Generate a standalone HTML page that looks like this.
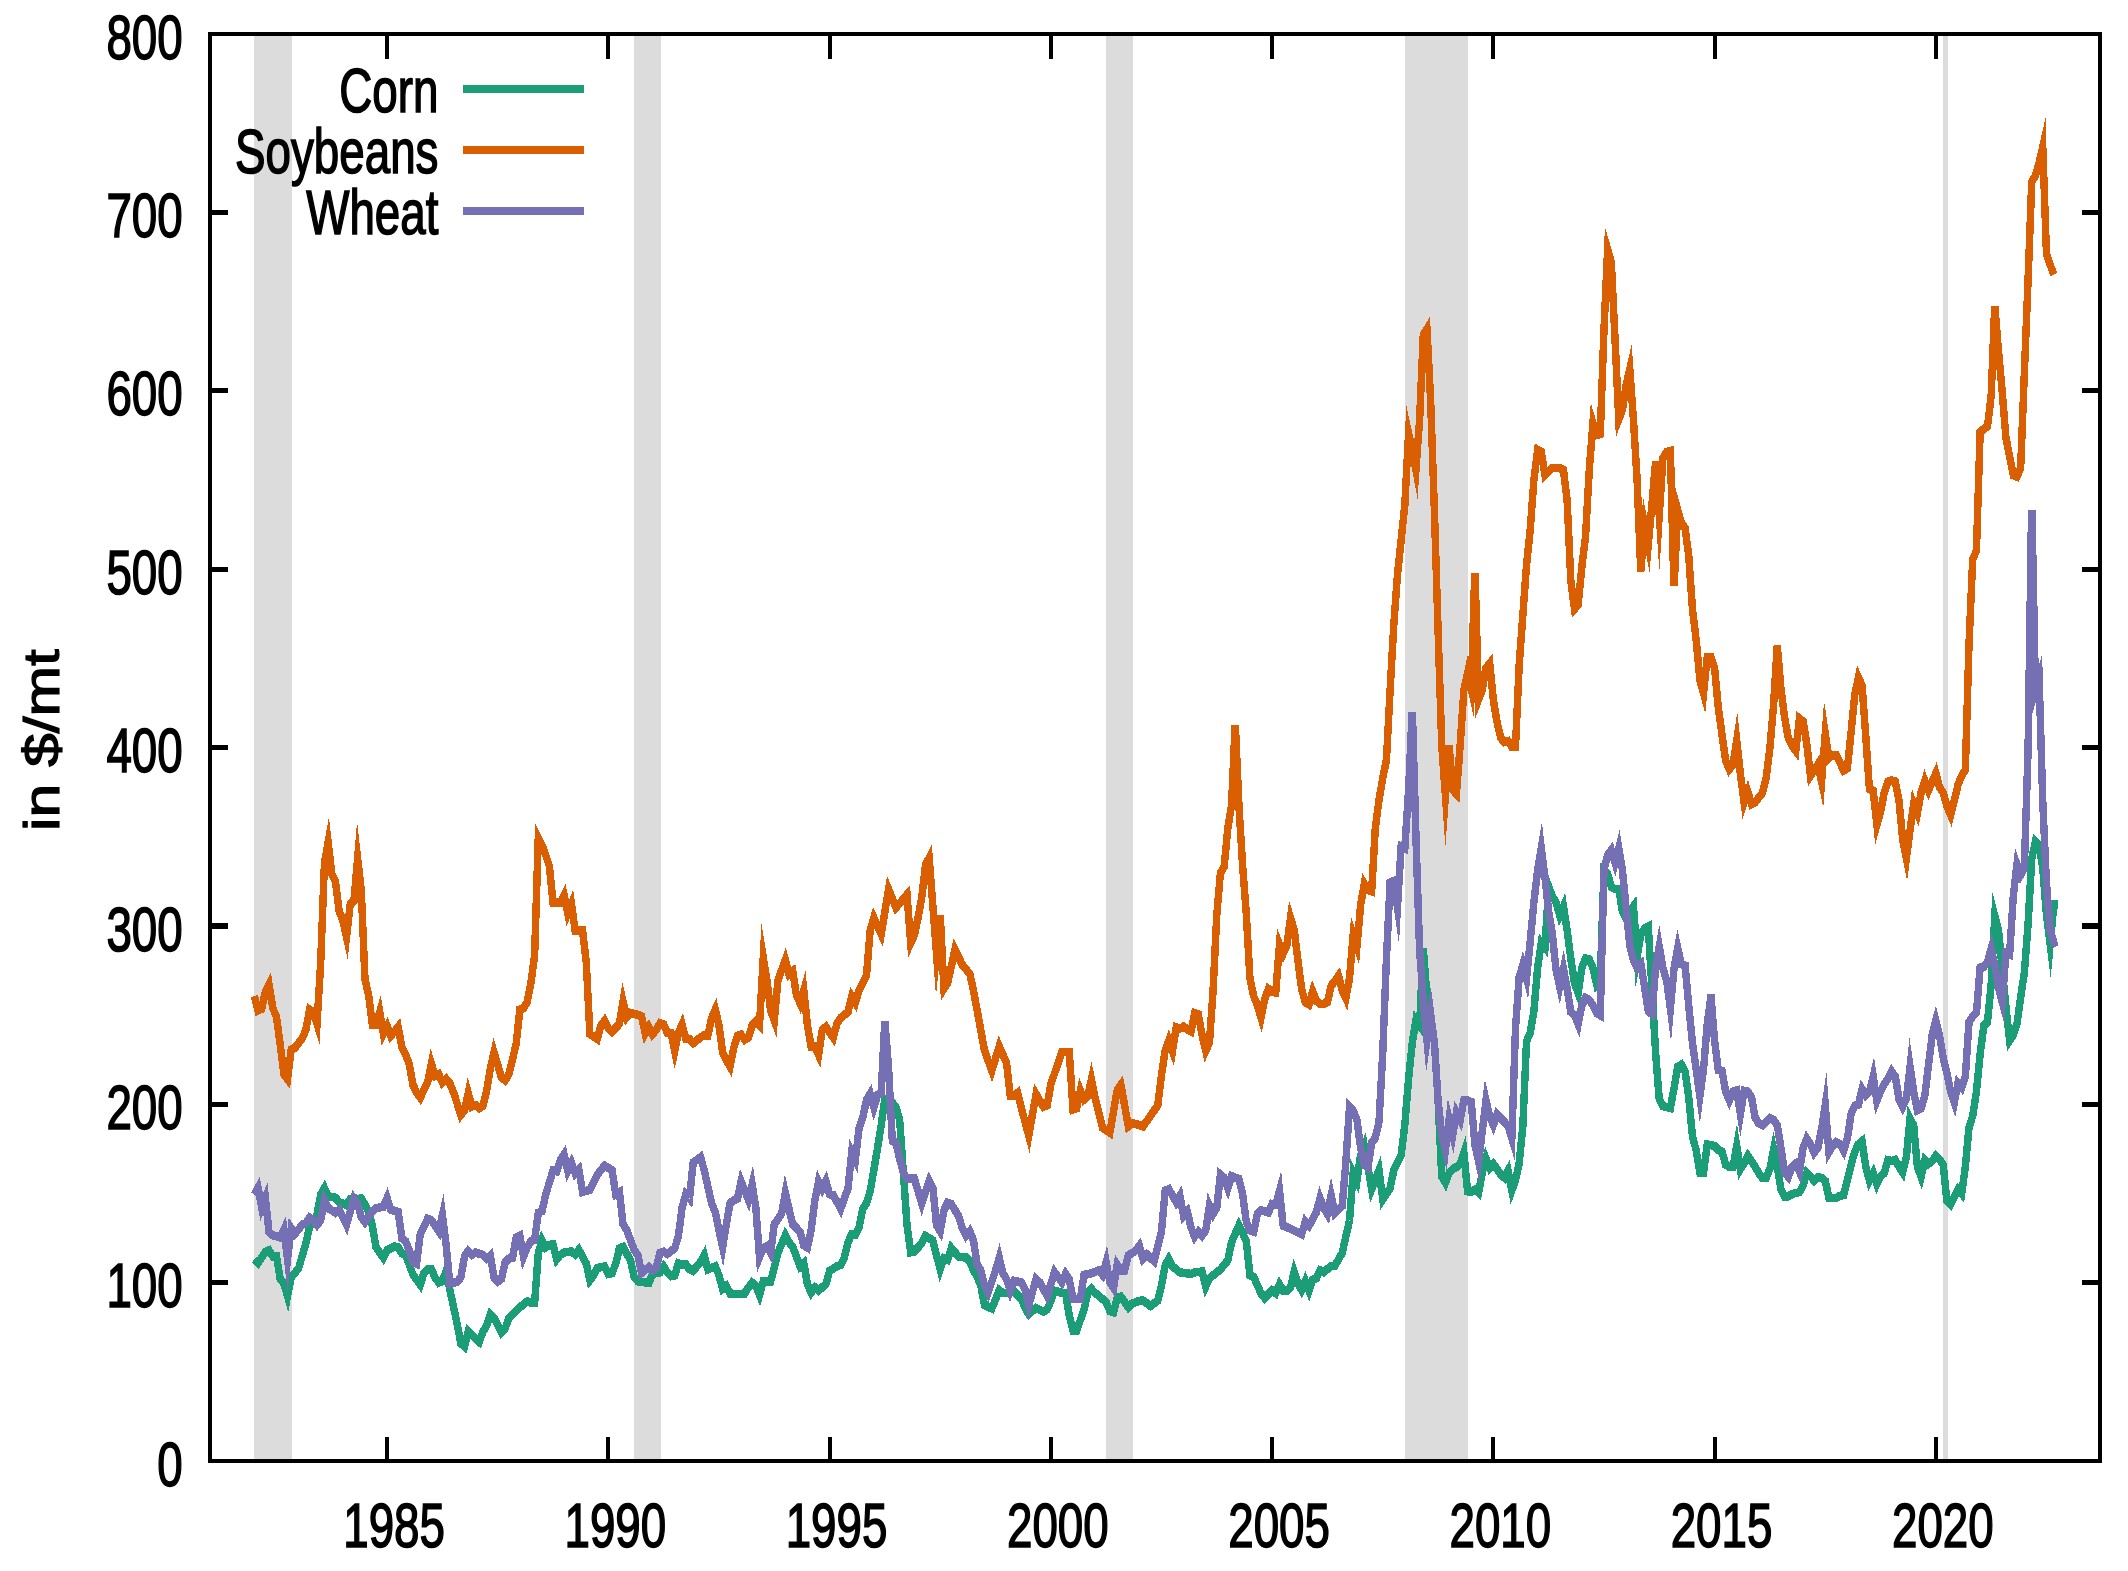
<!DOCTYPE html>
<html><head><meta charset="utf-8"><title>Commodity prices</title>
<style>
html,body{margin:0;padding:0;background:#fff;}
svg{display:block;}
text{font-family:"Liberation Sans",sans-serif;fill:#000;}
</style></head><body>
<svg width="2128" height="1571" viewBox="0 0 2128 1571" shape-rendering="crispEdges">
<rect width="2128" height="1571" fill="#fff"/>

<rect x="254.1" y="34" width="37.9" height="1427.2" fill="#dcdcdc"/>
<rect x="634" y="34" width="27.2" height="1427.2" fill="#dcdcdc"/>
<rect x="1106" y="34" width="27.0" height="1427.2" fill="#dcdcdc"/>
<rect x="1405" y="34" width="63.0" height="1427.2" fill="#dcdcdc"/>
<rect x="1942.8" y="34" width="5.0" height="1427.2" fill="#dcdcdc"/>
<g transform="scale(0.735,1)" stroke="#000" stroke-width="5.3" fill="none">
<path d="M526.67,1461.2v-24.7M526.67,34v24.7"/>
<path d="M827.69,1461.2v-24.7M827.69,34v24.7"/>
<path d="M1128.71,1461.2v-24.7M1128.71,34v24.7"/>
<path d="M1429.73,1461.2v-24.7M1429.73,34v24.7"/>
<path d="M1730.75,1461.2v-24.7M1730.75,34v24.7"/>
<path d="M2031.77,1461.2v-24.7M2031.77,34v24.7"/>
<path d="M2332.79,1461.2v-24.7M2332.79,34v24.7"/>
<path d="M2633.81,1461.2v-24.7M2633.81,34v24.7"/>
<path d="M285.71,1282.80h24.7M2856.73,1282.80h-24.7"/>
<path d="M285.71,1104.40h24.7M2856.73,1104.40h-24.7"/>
<path d="M285.71,926.00h24.7M2856.73,926.00h-24.7"/>
<path d="M285.71,747.60h24.7M2856.73,747.60h-24.7"/>
<path d="M285.71,569.20h24.7M2856.73,569.20h-24.7"/>
<path d="M285.71,390.80h24.7M2856.73,390.80h-24.7"/>
<path d="M285.71,212.40h24.7M2856.73,212.40h-24.7"/>
</g>
<g transform="scale(0.726,1)" stroke="#000" stroke-width="1.4" style="font-size:63px">
<text x="542.8" y="1547" text-anchor="middle" vector-effect="non-scaling-stroke">1985</text>
<text x="847.6" y="1547" text-anchor="middle" vector-effect="non-scaling-stroke">1990</text>
<text x="1152.3" y="1547" text-anchor="middle" vector-effect="non-scaling-stroke">1995</text>
<text x="1457.1" y="1547" text-anchor="middle" vector-effect="non-scaling-stroke">2000</text>
<text x="1761.8" y="1547" text-anchor="middle" vector-effect="non-scaling-stroke">2005</text>
<text x="2066.6" y="1547" text-anchor="middle" vector-effect="non-scaling-stroke">2010</text>
<text x="2371.3" y="1547" text-anchor="middle" vector-effect="non-scaling-stroke">2015</text>
<text x="2676.1" y="1547" text-anchor="middle" vector-effect="non-scaling-stroke">2020</text>
<text x="251.7" y="1485.9" text-anchor="end" vector-effect="non-scaling-stroke">0</text>
<text x="251.7" y="1307.5" text-anchor="end" vector-effect="non-scaling-stroke">100</text>
<text x="251.7" y="1129.1" text-anchor="end" vector-effect="non-scaling-stroke">200</text>
<text x="251.7" y="950.7" text-anchor="end" vector-effect="non-scaling-stroke">300</text>
<text x="251.7" y="772.3" text-anchor="end" vector-effect="non-scaling-stroke">400</text>
<text x="251.7" y="593.9" text-anchor="end" vector-effect="non-scaling-stroke">500</text>
<text x="251.7" y="415.5" text-anchor="end" vector-effect="non-scaling-stroke">600</text>
<text x="251.7" y="237.1" text-anchor="end" vector-effect="non-scaling-stroke">700</text>
<text x="251.7" y="58.7" text-anchor="end" vector-effect="non-scaling-stroke">800</text>
</g>
<g transform="scale(0.726,1)" stroke="#000" stroke-width="1.4" style="font-size:63px">
<text x="603.9" y="112.3" text-anchor="end" vector-effect="non-scaling-stroke">Corn</text>
<text x="603.9" y="173.3" text-anchor="end" vector-effect="non-scaling-stroke">Soybeans</text>
<text x="603.9" y="234.3" text-anchor="end" vector-effect="non-scaling-stroke">Wheat</text>
</g>
<text transform="translate(58.9,740) rotate(-90) scale(1,0.82)" text-anchor="middle" stroke="#000" stroke-width="1.3" vector-effect="non-scaling-stroke" style="font-size:60.6px">in $/mt</text>
<g transform="scale(0.875,1)" fill="none" stroke-width="8.5" stroke-linejoin="miter" stroke-miterlimit="40" stroke-linecap="butt" shape-rendering="crispEdges">
<path d="M529.1,89.0H667.7" stroke="#1b9e77" stroke-width="8"/>
<path d="M529.1,150.2H667.7" stroke="#d95f02" stroke-width="8"/>
<path d="M529.1,211.4H667.7" stroke="#7570b3" stroke-width="8"/>
<polyline points="290.7,1259.3 294.9,1263.1 303.3,1251.8 307.5,1250.3 311.8,1256.3 316.0,1256.3 320.2,1278.9 324.4,1283.4 328.6,1296.2 332.8,1277.4 341.3,1268.3 349.7,1242.8 353.9,1226.2 358.1,1223.2 362.3,1214.2 366.5,1194.7 370.8,1188.1 375.0,1196.2 383.4,1197.7 387.6,1202.2 396.0,1205.2 400.3,1199.2 404.5,1197.7 408.7,1199.2 412.9,1198.4 421.3,1211.2 425.5,1226.2 429.8,1247.3 438.2,1257.8 442.4,1250.3 450.8,1246.5 455.0,1247.3 459.3,1253.3 463.5,1254.8 471.9,1274.4 480.3,1284.7 484.5,1272.9 488.8,1269.1 493.0,1269.1 497.2,1277.4 501.4,1282.6 505.6,1281.1 509.8,1271.4 514.0,1289.4 522.5,1324.0 526.7,1343.5 530.9,1346.5 535.1,1331.5 543.5,1338.3 547.8,1341.8 552.0,1331.5 556.2,1325.5 560.4,1314.2 564.6,1318.0 573.0,1332.3 577.3,1328.5 581.5,1318.0 589.9,1310.5 602.5,1301.4 606.8,1302.9 611.0,1302.9 615.2,1253.3 619.4,1240.2 623.6,1247.3 627.8,1245.0 632.0,1244.3 636.3,1259.3 640.5,1254.8 644.7,1252.6 653.1,1251.3 657.3,1254.4 661.5,1249.8 670.0,1263.4 674.2,1280.2 678.4,1275.4 682.6,1267.9 691.0,1266.4 695.3,1273.9 699.5,1273.2 703.7,1263.4 707.9,1248.3 712.1,1246.8 720.5,1260.4 724.8,1276.9 729.0,1281.4 737.4,1282.4 741.6,1282.9 745.8,1273.9 754.3,1272.4 758.5,1266.6 762.7,1272.4 766.9,1276.2 771.1,1275.4 775.3,1263.4 779.5,1264.9 783.8,1264.1 788.0,1269.4 792.2,1270.9 800.6,1261.9 804.8,1255.3 809.0,1269.4 813.3,1267.9 817.5,1266.4 821.7,1275.4 825.9,1288.9 830.1,1285.9 834.3,1293.5 842.8,1294.2 851.2,1293.5 855.4,1287.4 859.6,1282.7 863.8,1285.9 868.0,1295.0 872.3,1281.4 880.7,1281.4 884.9,1267.9 889.1,1252.9 897.5,1235.3 901.8,1242.3 906.0,1246.8 914.4,1266.4 918.6,1262.9 922.8,1284.4 927.0,1292.7 931.3,1287.4 935.5,1290.5 943.9,1284.1 948.1,1270.9 956.5,1266.4 960.8,1264.9 965.0,1257.4 969.2,1242.3 973.4,1234.1 977.6,1234.8 981.8,1227.3 986.0,1209.2 990.3,1203.2 994.5,1191.2 1002.9,1148.3 1007.1,1125.0 1011.3,1099.0 1015.5,1100.0 1019.8,1102.7 1024.0,1107.0 1028.2,1120.0 1032.4,1172.6 1036.6,1225.3 1040.8,1252.3 1045.0,1251.6 1053.5,1243.3 1057.7,1236.0 1066.1,1240.3 1070.3,1255.3 1074.5,1269.4 1078.8,1258.3 1083.0,1259.8 1087.2,1248.1 1091.4,1252.3 1095.6,1256.8 1104.0,1257.6 1108.3,1261.4 1112.5,1270.4 1116.7,1276.4 1120.9,1285.4 1125.1,1305.0 1133.5,1308.5 1142.0,1290.2 1146.2,1292.9 1154.6,1292.9 1158.8,1291.4 1167.3,1298.9 1171.5,1308.0 1175.7,1314.0 1184.1,1308.0 1192.5,1311.7 1196.8,1309.5 1201.0,1300.5 1205.2,1290.7 1213.6,1292.9 1217.8,1292.9 1222.0,1315.5 1226.3,1330.5 1230.5,1330.5 1238.9,1309.5 1243.1,1292.9 1247.3,1288.9 1251.5,1292.9 1264.2,1302.0 1268.4,1311.0 1272.6,1312.2 1276.8,1297.4 1281.0,1296.7 1289.5,1307.2 1293.7,1303.5 1302.1,1300.9 1306.3,1300.5 1314.8,1306.0 1323.2,1300.5 1327.4,1285.4 1331.6,1265.4 1335.8,1258.9 1340.0,1266.4 1348.5,1272.4 1361.1,1273.9 1365.3,1272.4 1373.8,1271.6 1378.0,1286.5 1382.2,1278.4 1394.8,1269.4 1403.3,1260.4 1407.5,1242.3 1415.9,1225.3 1424.3,1240.8 1428.5,1275.4 1432.8,1276.9 1441.2,1293.5 1445.4,1298.0 1453.8,1290.5 1458.0,1293.2 1462.3,1284.4 1466.5,1290.5 1470.7,1290.7 1474.9,1287.4 1479.1,1271.9 1483.3,1282.9 1487.5,1290.0 1491.8,1281.2 1496.0,1290.7 1500.2,1279.9 1504.4,1278.4 1508.6,1270.4 1512.8,1272.2 1521.3,1266.1 1525.5,1265.9 1533.9,1252.9 1542.3,1220.5 1546.5,1172.9 1550.8,1180.7 1555.0,1155.1 1559.2,1146.1 1567.6,1189.2 1576.0,1170.4 1580.3,1199.2 1588.7,1188.2 1592.9,1170.2 1601.3,1155.1 1605.5,1125.0 1609.8,1078.8 1614.0,1043.0 1618.2,1020.0 1622.4,1025.3 1626.3,952.2 1626.9,952.2 1630.8,996.0 1635.0,1024.0 1639.3,1041.0 1643.5,1100.0 1647.7,1176.5 1651.9,1182.8 1656.1,1172.8 1660.3,1169.0 1664.5,1167.0 1668.8,1164.3 1673.0,1153.2 1677.2,1191.3 1681.4,1191.6 1685.6,1189.7 1689.8,1192.8 1694.0,1172.8 1698.3,1158.5 1702.5,1167.7 1706.7,1164.0 1710.9,1169.0 1715.1,1174.7 1719.3,1177.8 1723.5,1170.8 1727.8,1190.5 1732.0,1180.3 1736.2,1163.4 1740.4,1125.8 1744.6,1041.3 1748.8,1032.8 1753.0,1011.2 1757.3,968.0 1761.5,942.7 1765.7,947.3 1769.9,886.5 1774.1,896.5 1778.3,902.3 1782.5,915.3 1786.8,906.5 1791.0,930.4 1795.2,958.6 1799.4,983.0 1803.6,993.1 1807.8,968.0 1812.0,958.6 1816.3,959.5 1820.5,968.0 1824.7,984.0 1828.9,979.0 1833.1,870.6 1837.3,874.0 1841.5,887.0 1845.8,889.0 1850.0,889.0 1854.2,911.6 1858.4,919.0 1862.6,911.6 1866.8,906.4 1871.0,956.6 1875.3,934.0 1879.5,928.5 1883.7,926.5 1887.9,986.8 1892.1,1052.6 1896.3,1099.5 1900.5,1106.0 1904.8,1107.0 1909.0,1108.0 1913.2,1088.0 1917.4,1066.8 1921.6,1064.7 1925.8,1071.3 1930.0,1097.6 1934.3,1137.0 1938.5,1150.2 1942.7,1172.8 1946.9,1172.8 1951.1,1144.6 1955.3,1145.0 1959.5,1146.1 1963.8,1149.8 1968.0,1151.7 1972.2,1164.9 1976.4,1166.8 1980.6,1166.8 1984.8,1146.0 1989.0,1169.2 1993.3,1163.0 1997.5,1155.8 2001.7,1161.1 2005.9,1166.8 2010.1,1173.3 2014.3,1178.0 2018.5,1177.8 2022.8,1168.6 2027.0,1149.8 2031.2,1166.8 2035.4,1189.3 2039.6,1196.8 2043.8,1196.3 2048.0,1194.0 2052.3,1193.1 2056.5,1192.1 2060.7,1185.6 2064.9,1172.8 2069.1,1176.2 2073.3,1180.8 2077.5,1177.1 2081.8,1178.0 2086.0,1180.9 2090.2,1197.8 2094.4,1198.0 2098.6,1197.8 2102.8,1195.9 2107.0,1195.0 2111.3,1179.9 2115.5,1164.9 2119.7,1151.7 2123.9,1144.2 2128.1,1141.2 2132.3,1166.8 2136.5,1180.5 2140.8,1173.0 2145.0,1184.0 2149.2,1176.2 2153.4,1173.3 2157.6,1160.2 2161.8,1161.1 2166.0,1159.8 2170.3,1166.8 2174.5,1172.3 2178.7,1157.4 2182.9,1118.5 2187.1,1125.4 2191.3,1166.8 2195.5,1176.8 2199.8,1160.2 2204.0,1163.9 2208.2,1161.1 2212.4,1155.8 2216.6,1159.2 2220.8,1164.9 2225.0,1200.6 2229.3,1204.2 2233.5,1196.8 2237.7,1189.7 2241.9,1193.8 2246.1,1166.8 2250.3,1127.3 2254.5,1116.0 2258.8,1091.6 2263.0,1054.0 2267.2,1025.8 2271.4,1022.0 2275.6,985.0 2279.8,916.1 2284.0,930.0 2288.3,970.0 2292.5,1007.0 2296.7,1040.5 2300.9,1035.0 2305.1,1024.0 2309.3,997.6 2313.5,973.0 2317.8,924.4 2322.0,858.6 2326.2,841.5 2330.4,845.4 2334.6,868.0 2338.8,915.0 2343.0,944.3 2347.3,904.6 2351.5,904.6" stroke="#1b9e77"/>
<polyline points="290.7,996.1 294.9,1010.4 299.1,1008.9 303.3,991.6 307.5,984.5 311.8,1008.1 316.0,1017.1 320.2,1044.2 324.4,1074.3 328.6,1079.1 332.8,1049.5 337.0,1048.0 345.5,1038.2 349.7,1029.2 353.9,1009.6 358.1,1011.9 362.3,1023.7 366.5,962.7 370.8,863.2 375.0,842.5 379.2,873.7 383.4,881.2 387.6,911.3 391.8,920.3 396.0,936.9 400.3,903.8 404.5,900.8 408.7,858.6 412.9,890.2 417.1,978.9 421.3,995.5 425.5,1024.7 429.8,1024.7 434.0,1011.9 438.2,1033.7 442.4,1026.2 446.6,1035.9 455.0,1026.9 459.3,1047.2 463.5,1054.7 467.7,1063.8 471.9,1084.8 476.1,1092.3 480.3,1097.6 488.8,1081.8 493.0,1063.8 497.2,1075.8 501.4,1074.3 505.6,1082.6 509.8,1078.8 514.0,1083.3 518.3,1092.3 526.7,1114.9 530.9,1110.4 535.1,1093.1 539.3,1106.6 543.5,1105.1 547.8,1108.1 552.0,1105.9 556.2,1090.8 560.4,1068.3 564.6,1052.5 573.0,1077.3 577.3,1080.3 581.5,1074.3 589.9,1044.2 594.1,1009.6 598.3,1008.1 602.5,1002.1 606.8,982.6 611.0,955.0 615.2,837.8 619.4,845.0 623.6,855.0 627.8,866.0 632.0,902.7 636.3,902.7 640.5,902.7 644.7,895.4 648.9,913.2 653.1,904.1 657.3,930.7 665.8,930.7 670.0,962.3 674.2,1034.1 682.6,1038.9 686.8,1025.4 691.0,1020.6 695.3,1028.4 699.5,1031.7 707.9,1023.9 712.1,1001.6 716.3,1017.2 720.5,1012.9 729.0,1014.9 733.2,1016.4 737.4,1033.5 741.6,1026.9 745.8,1034.2 750.0,1029.9 754.3,1023.2 758.5,1024.4 762.7,1032.9 766.9,1032.9 771.1,1050.8 775.3,1032.9 779.5,1024.6 783.8,1038.9 788.0,1038.9 792.2,1043.2 800.6,1037.4 804.8,1035.2 809.0,1035.6 813.3,1017.9 817.5,1009.6 821.7,1025.4 825.9,1052.5 830.1,1060.0 834.3,1066.5 838.5,1048.0 842.8,1035.9 847.0,1034.7 851.2,1039.7 855.4,1037.4 859.6,1025.4 863.8,1021.7 868.0,1025.4 872.3,957.7 876.5,980.3 880.7,1010.4 884.9,1020.4 889.1,980.3 897.5,960.0 901.8,974.3 906.0,971.3 910.2,995.3 914.4,1003.4 918.6,990.5 922.8,1025.4 927.0,1046.5 931.3,1046.5 935.5,1054.8 939.7,1029.9 943.9,1026.9 952.3,1037.5 956.5,1023.9 960.8,1017.9 969.2,1011.9 973.4,996.6 977.6,1002.7 981.8,990.4 990.3,975.3 994.5,930.2 998.7,917.7 1007.1,934.0 1015.5,889.3 1024.0,907.7 1036.6,894.6 1040.8,943.0 1045.0,935.0 1049.3,917.5 1053.5,897.0 1057.7,865.0 1061.9,857.8 1070.3,953.9 1074.3,919.1 1074.8,919.1 1078.8,988.7 1083.0,982.9 1091.4,949.7 1099.8,964.8 1108.3,973.8 1112.5,990.4 1116.7,1010.2 1125.1,1050.4 1133.5,1070.7 1142.0,1046.3 1150.4,1063.2 1154.6,1096.2 1158.8,1096.2 1163.0,1093.0 1167.3,1108.3 1175.7,1135.6 1184.1,1094.2 1192.5,1106.8 1196.8,1105.3 1201.0,1084.2 1213.6,1051.9 1222.0,1051.9 1226.3,1109.5 1230.5,1108.3 1234.7,1090.4 1238.9,1099.5 1243.1,1096.2 1247.3,1079.7 1251.5,1097.7 1260.0,1127.8 1268.4,1132.6 1276.8,1090.2 1281.0,1084.9 1285.3,1105.3 1289.5,1126.3 1293.7,1123.3 1302.1,1124.8 1306.3,1126.6 1314.8,1115.8 1323.2,1105.3 1327.4,1075.2 1331.6,1050.4 1335.8,1040.5 1340.0,1051.0 1344.3,1027.3 1348.5,1028.6 1352.7,1026.5 1356.9,1029.3 1361.1,1031.3 1365.3,1013.2 1369.5,1014.3 1373.8,1035.3 1378.0,1050.9 1382.2,1042.9 1386.4,990.2 1390.6,915.0 1394.8,872.9 1399.0,866.9 1403.3,827.8 1407.5,805.3 1411.4,728.8 1412.0,728.8 1415.9,805.3 1420.1,865.4 1424.3,913.5 1428.5,978.2 1432.8,996.2 1437.0,1005.3 1441.2,1017.6 1445.4,999.2 1449.6,988.9 1453.8,991.7 1458.0,992.5 1462.3,944.3 1466.5,953.4 1470.7,945.1 1474.9,918.0 1479.1,930.0 1483.3,960.2 1487.5,988.7 1491.8,1002.3 1496.0,1004.5 1500.2,991.4 1504.4,1000.8 1508.6,1003.8 1512.8,1004.0 1517.0,1002.3 1521.3,985.7 1525.5,981.2 1529.7,975.9 1533.9,990.2 1538.1,998.2 1542.3,978.2 1546.5,935.2 1550.8,946.6 1555.0,905.0 1559.2,883.8 1563.4,890.0 1567.6,891.2 1571.8,828.0 1576.0,800.0 1580.3,778.0 1584.5,760.0 1588.7,690.0 1592.9,625.0 1597.1,575.0 1601.3,540.0 1605.5,505.0 1609.8,433.3 1614.0,450.0 1618.2,469.8 1622.4,420.0 1626.6,335.0 1630.8,329.0 1635.0,400.0 1639.3,510.0 1643.5,630.0 1647.7,745.0 1651.9,795.7 1655.8,749.2 1656.4,749.2 1660.3,790.0 1664.5,793.9 1668.8,745.0 1673.0,690.0 1677.2,673.2 1681.4,689.2 1685.3,577.2 1685.9,577.2 1689.8,699.5 1694.0,690.0 1698.3,668.0 1702.5,663.5 1706.7,700.0 1710.9,722.0 1715.1,738.0 1719.3,742.0 1723.5,741.0 1727.8,747.0 1732.0,746.8 1736.2,665.0 1740.4,615.0 1744.6,565.0 1748.8,530.0 1753.0,480.0 1757.3,449.9 1761.5,452.0 1765.7,475.0 1769.9,471.0 1774.1,468.0 1778.3,468.0 1782.5,468.0 1786.8,470.0 1791.0,500.0 1795.2,580.0 1799.4,609.0 1803.6,605.0 1807.8,567.0 1812.0,537.0 1816.3,470.0 1820.5,423.0 1824.7,435.0 1828.9,434.0 1833.1,330.0 1837.3,249.4 1841.5,262.0 1845.8,340.0 1850.0,419.4 1854.2,410.0 1858.4,385.0 1862.6,369.2 1866.8,420.0 1871.0,480.0 1875.0,568.0 1875.5,568.0 1879.5,525.2 1883.7,545.0 1887.9,505.0 1891.8,464.9 1892.4,464.9 1896.3,515.0 1900.5,458.0 1904.8,452.0 1909.0,451.1 1912.9,582.0 1913.5,582.0 1917.4,509.9 1921.6,523.0 1925.8,527.8 1930.0,556.0 1934.3,610.0 1938.5,640.0 1942.7,680.0 1946.9,693.3 1951.1,657.2 1955.3,657.0 1959.5,668.0 1963.8,708.0 1968.0,734.5 1972.2,760.8 1976.4,769.3 1980.6,764.6 1984.8,740.5 1989.0,774.0 1993.3,802.6 1997.5,791.9 2001.7,804.0 2005.9,802.2 2010.1,797.5 2014.3,792.8 2018.5,777.7 2022.8,747.7 2027.0,704.4 2030.9,649.2 2031.5,649.2 2035.4,689.4 2039.6,717.6 2043.8,738.3 2048.0,745.8 2052.3,750.8 2056.5,718.5 2060.7,721.4 2064.9,744.0 2069.1,775.7 2073.3,770.2 2077.5,764.6 2081.8,781.8 2086.0,733.7 2090.2,758.2 2094.4,755.2 2098.6,755.4 2102.8,762.7 2107.0,770.4 2111.3,768.3 2115.5,732.6 2119.7,695.0 2123.9,677.4 2128.1,685.6 2132.3,736.4 2136.5,789.0 2140.8,790.9 2145.0,824.8 2149.2,811.6 2153.4,792.8 2157.6,781.5 2161.8,780.4 2166.0,781.5 2170.3,800.3 2174.5,839.8 2178.7,858.4 2182.9,830.4 2187.1,803.8 2191.3,813.1 2195.5,792.8 2199.8,780.8 2204.0,790.3 2208.2,781.5 2212.4,773.3 2216.6,787.1 2220.8,792.8 2225.0,806.0 2229.3,814.9 2233.5,800.3 2237.7,785.0 2241.9,775.9 2246.1,770.0 2250.3,644.0 2254.5,559.8 2258.8,550.4 2263.0,432.0 2267.2,429.0 2271.4,426.3 2275.6,396.3 2279.5,310.1 2280.1,310.1 2284.0,351.2 2288.3,392.6 2292.5,437.6 2296.7,456.4 2300.9,475.2 2305.1,476.6 2309.3,468.0 2313.5,374.0 2317.8,279.8 2322.0,182.0 2326.2,175.5 2330.4,163.0 2334.6,146.8 2338.8,253.5 2343.0,264.7 2347.3,274.5" stroke="#d95f02"/>
<polyline points="290.7,1194.7 294.9,1187.9 299.1,1207.5 303.3,1198.1 307.5,1232.3 311.8,1235.3 320.2,1237.5 324.4,1229.7 328.6,1259.4 332.8,1228.2 337.0,1233.8 345.5,1224.7 349.7,1223.2 353.9,1217.7 358.1,1220.2 362.3,1225.0 366.5,1220.2 370.8,1200.7 375.0,1208.2 383.4,1212.7 387.6,1209.7 396.0,1224.8 404.5,1198.7 408.7,1203.7 412.9,1217.2 417.1,1222.0 425.5,1211.2 429.8,1208.2 438.2,1206.7 442.4,1198.1 446.6,1209.7 455.0,1212.0 459.3,1238.3 463.5,1241.3 467.7,1250.3 471.9,1262.3 476.1,1263.8 480.3,1233.8 488.8,1218.7 493.0,1220.2 501.4,1231.0 505.6,1215.2 509.8,1244.3 514.0,1283.4 522.5,1281.9 526.7,1277.4 530.9,1256.3 535.1,1251.0 539.3,1254.8 543.5,1252.6 552.0,1254.8 556.2,1258.8 560.4,1255.5 564.6,1277.4 568.8,1281.6 573.0,1278.9 577.3,1262.3 581.5,1258.6 585.7,1257.8 589.9,1237.5 594.1,1235.8 598.3,1256.6 602.5,1247.3 606.8,1241.3 611.0,1239.8 615.2,1212.7 619.4,1211.2 623.6,1194.7 632.0,1170.6 636.3,1171.4 640.5,1160.1 644.7,1154.5 648.9,1170.6 653.1,1162.9 657.3,1173.2 661.5,1169.4 665.8,1192.0 674.2,1189.7 682.6,1174.7 691.0,1165.6 699.5,1170.2 703.7,1194.2 707.9,1192.0 712.1,1224.3 716.3,1230.3 724.8,1249.8 729.0,1255.1 733.2,1272.9 741.6,1267.1 745.8,1270.4 750.0,1267.9 754.3,1252.9 758.5,1251.6 762.7,1253.9 771.1,1248.3 775.3,1236.3 779.5,1207.7 783.8,1194.2 788.0,1198.5 792.2,1162.6 800.6,1157.1 804.8,1170.2 813.3,1203.2 817.5,1212.3 821.7,1230.3 825.9,1247.1 830.1,1224.3 834.3,1203.2 838.5,1200.2 842.8,1198.7 847.0,1181.4 855.4,1199.8 859.6,1184.6 863.8,1207.7 868.0,1257.2 872.3,1248.3 876.5,1246.3 880.7,1252.9 884.9,1224.3 893.3,1213.8 897.5,1192.9 901.8,1209.2 906.0,1224.3 914.4,1231.8 918.6,1245.3 922.8,1247.6 927.0,1230.3 931.3,1200.2 935.5,1181.4 939.7,1189.0 943.9,1181.2 948.1,1194.2 952.3,1195.0 960.8,1208.8 969.2,1188.2 973.4,1152.3 977.6,1159.7 981.8,1128.0 986.0,1117.5 990.3,1100.0 994.5,1093.8 998.7,1107.3 1002.9,1095.0 1007.1,1093.0 1011.0,1024.8 1011.6,1024.8 1015.5,1068.0 1019.8,1141.0 1024.0,1142.6 1028.2,1159.1 1032.4,1172.6 1036.6,1178.6 1045.0,1178.6 1053.5,1203.5 1061.9,1180.9 1066.1,1187.7 1070.3,1225.3 1074.5,1231.3 1078.8,1210.2 1083.0,1202.7 1087.2,1204.0 1095.6,1216.2 1099.8,1228.3 1104.0,1235.8 1108.3,1231.3 1112.5,1240.3 1116.7,1264.4 1120.9,1270.4 1125.1,1285.4 1129.3,1292.7 1137.8,1270.4 1142.0,1257.8 1146.2,1273.4 1150.4,1279.4 1154.6,1290.7 1158.8,1280.9 1167.3,1282.4 1171.5,1289.9 1175.7,1305.2 1184.1,1279.1 1188.3,1282.4 1196.8,1296.0 1205.2,1272.1 1213.6,1282.2 1217.8,1273.9 1222.0,1279.4 1226.3,1298.9 1234.7,1298.9 1238.9,1274.9 1247.3,1273.4 1255.8,1270.4 1260.0,1274.9 1264.2,1262.1 1268.4,1282.4 1272.6,1287.9 1276.8,1264.8 1281.0,1270.4 1285.3,1270.4 1289.5,1255.3 1297.9,1250.8 1302.1,1245.8 1306.3,1258.6 1310.5,1254.3 1319.0,1261.4 1327.4,1231.3 1331.6,1190.7 1335.8,1189.2 1344.3,1202.2 1348.5,1195.9 1352.7,1215.8 1356.9,1211.5 1361.1,1227.3 1365.3,1236.8 1369.5,1231.8 1373.8,1235.6 1378.0,1230.3 1382.2,1205.7 1386.4,1213.8 1390.6,1207.7 1394.8,1174.6 1399.0,1177.7 1403.3,1188.2 1407.5,1176.2 1411.7,1177.7 1415.9,1178.9 1420.1,1194.2 1424.3,1221.3 1428.5,1230.3 1432.8,1231.6 1437.0,1213.8 1441.2,1210.2 1449.6,1212.5 1453.8,1204.0 1458.0,1204.7 1462.3,1190.9 1466.5,1225.8 1474.9,1228.8 1487.5,1234.3 1491.8,1221.5 1496.0,1225.8 1504.4,1212.3 1508.6,1198.2 1512.8,1207.7 1517.0,1213.8 1521.3,1195.4 1525.5,1213.0 1533.9,1206.2 1538.1,1162.6 1542.3,1106.8 1546.5,1110.8 1550.8,1120.0 1555.0,1148.0 1559.2,1165.0 1563.4,1167.7 1567.6,1142.7 1571.8,1138.0 1576.0,1122.0 1580.3,1052.6 1584.5,958.6 1588.7,882.4 1592.9,881.1 1597.1,907.2 1601.3,846.5 1605.5,848.2 1609.8,790.0 1613.7,716.4 1614.3,716.4 1618.2,836.0 1622.4,950.0 1626.6,1000.0 1630.8,1040.0 1635.0,1013.8 1639.3,1043.0 1643.5,1100.0 1647.7,1135.0 1651.9,1150.0 1656.1,1119.5 1660.3,1135.0 1664.5,1112.7 1668.8,1120.0 1673.0,1100.2 1677.2,1100.4 1681.4,1102.0 1685.6,1144.6 1689.8,1161.5 1694.0,1131.4 1698.3,1100.5 1702.5,1116.4 1706.7,1125.0 1710.9,1114.5 1715.1,1118.3 1719.3,1122.0 1723.5,1125.8 1727.8,1138.2 1732.0,1028.0 1736.2,977.4 1740.4,964.8 1744.6,978.5 1748.8,941.7 1753.0,902.2 1757.3,870.2 1761.5,848.0 1765.7,877.7 1769.9,911.6 1774.1,934.0 1778.3,969.8 1782.5,986.6 1786.8,969.0 1791.0,988.6 1795.2,1012.0 1799.4,1015.0 1803.6,1024.2 1807.8,1005.6 1812.0,997.9 1816.3,1000.0 1820.5,1005.6 1824.7,1013.0 1828.9,1015.2 1833.1,870.2 1837.3,855.0 1841.5,850.2 1845.8,862.7 1850.0,848.4 1854.2,870.2 1858.4,907.8 1862.6,945.4 1866.8,960.5 1871.0,968.0 1875.3,964.2 1879.5,986.8 1883.7,1011.2 1887.9,1014.0 1892.1,968.0 1896.3,946.7 1900.5,968.0 1904.8,981.0 1909.0,1008.7 1913.2,968.0 1917.4,947.9 1921.6,964.2 1925.8,965.5 1930.0,1005.6 1934.3,1043.2 1938.5,1069.5 1942.7,1096.4 1946.9,1069.4 1951.1,1024.4 1955.0,998.2 1955.6,998.2 1959.5,1040.8 1963.8,1070.0 1968.0,1070.9 1972.2,1091.6 1976.4,1100.4 1980.6,1091.6 1984.8,1090.5 1989.0,1113.8 1993.3,1090.9 1997.5,1091.6 2001.7,1097.2 2005.9,1117.9 2010.1,1123.5 2014.3,1125.1 2018.5,1121.7 2022.8,1118.2 2027.0,1119.8 2031.2,1125.4 2035.4,1148.0 2039.6,1172.4 2043.8,1176.8 2048.0,1166.8 2052.3,1163.7 2056.5,1171.6 2060.7,1148.0 2064.9,1138.6 2069.1,1144.2 2073.3,1152.7 2077.5,1148.0 2081.8,1129.2 2086.0,1105.0 2090.2,1152.2 2094.4,1146.1 2098.6,1142.3 2102.8,1144.2 2107.0,1150.7 2111.3,1138.6 2115.5,1114.1 2119.7,1105.7 2123.9,1104.7 2128.1,1089.2 2132.3,1095.3 2136.5,1091.6 2140.8,1076.3 2145.0,1100.8 2149.2,1091.6 2153.4,1084.1 2157.6,1078.4 2161.8,1071.3 2166.0,1076.5 2170.3,1099.1 2174.5,1106.6 2178.7,1099.1 2182.9,1066.8 2187.1,1091.6 2191.3,1110.2 2195.5,1108.5 2199.8,1095.3 2204.0,1065.3 2208.2,1035.2 2212.4,1020.6 2216.6,1035.2 2220.8,1057.7 2225.0,1072.8 2229.3,1091.6 2233.5,1102.5 2237.7,1083.2 2241.9,1087.5 2246.1,1076.5 2250.3,1022.0 2254.5,1016.4 2258.8,1012.6 2263.0,967.5 2267.2,966.6 2271.4,962.0 2275.6,948.8 2279.8,965.0 2284.0,988.0 2288.3,1002.0 2292.5,952.9 2296.7,954.4 2300.9,896.0 2305.1,864.5 2309.3,874.8 2313.5,868.0 2317.8,750.0 2321.7,514.0 2322.3,514.0 2326.2,690.0 2330.4,677.7 2334.6,802.0 2338.8,883.0 2343.0,930.0 2347.3,942.5 2351.5,942.0" stroke="#7570b3"/>
</g>
<rect x="210" y="34" width="1889.7" height="1427.2" fill="none" stroke="#000" stroke-width="4"/>
</svg></body></html>
